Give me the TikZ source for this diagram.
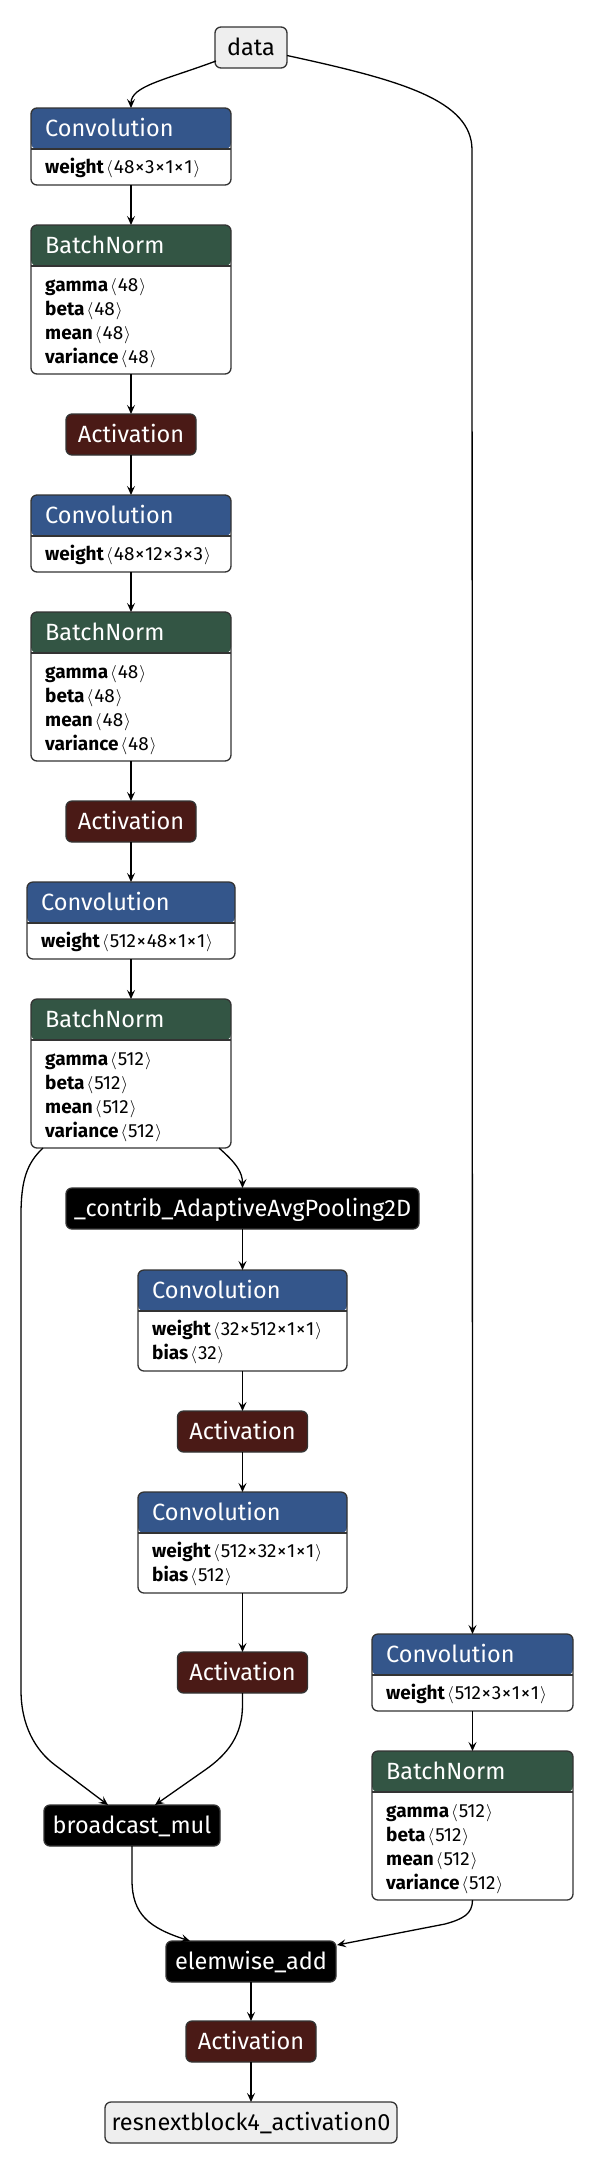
\documentclass[tikz,border=0pt]{standalone}
\usepackage{fontspec}
\setmainfont{Fira Sans}
\usetikzlibrary{arrows.meta}
\definecolor{convcol}{RGB}{52,86,139}
\definecolor{bncol}{RGB}{51,85,68}
\definecolor{actcol}{RGB}{74,26,22}
\definecolor{iocol}{RGB}{238,238,238}
\definecolor{bordcol}{RGB}{51,51,51}
\newcommand\hdrfont{\fontsize{23.5}{26}\selectfont}
\newcommand\bodyfont{\fontsize{19}{24}\selectfont}
\newcommand\dims[1]{\kern2pt$\langle$\kern1pt#1\kern1pt$\rangle$}
\newcommand\xx{\kern0.6pt×\kern0.6pt}
\tikzset{
  boxbase/.style={draw=bordcol, line width=1.3pt, rounded corners=6pt, inner sep=0pt, outer sep=0pt, anchor=north west},
  param/.style n args={4}{boxbase, fill=white, minimum width=#1, minimum height=#2,
     path picture={\fill[#3] (path picture bounding box.north west) rectangle ([yshift=-41pt]path picture bounding box.north east);
       \draw[bordcol, line width=1.3pt] ([yshift=-41pt]path picture bounding box.north west) -- ([yshift=-41pt]path picture bounding box.north east);}},
  simple/.style n args={3}{boxbase, fill=#2, text=#3, minimum width=#1, minimum height=41pt, font=\hdrfont},
  hdr/.style={anchor=base west, inner sep=0pt, text=white, font=\hdrfont},
  body/.style={anchor=base west, inner sep=0pt, text=black, font=\bodyfont, align=left},
  lbl/.style={anchor=base, inner sep=0pt, font=\hdrfont},
  edge/.style={draw=black, line width=1.3pt, -{Stealth[length=9pt,width=8pt,inset=3.5pt]}},
}
\begin{document}
\begin{tikzpicture}[x=1pt,y=-1pt]
\useasboundingbox (0,0) rectangle (606,2172);
% data
\node[simple={72pt}{iocol}{black}] (data) at (215,27) {};
\node[lbl] (datat) at ([yshift=-28pt]data.north) {data};
% Conv1
\node[param={200pt}{77pt}{convcol}] (conv1) at (31,108) {};
\node[hdr] (conv1h) at ([xshift=14pt,yshift=-28pt]conv1.north west) {Convolution};
\node[body] (conv1b) at ([xshift=14pt,yshift=-65pt]conv1.north west) {\textbf{weight}\dims{48\xx3\xx1\xx1}};
% BN1
\node[param={200pt}{149pt}{bncol}] (bn1) at (31,225) {};
\node[hdr] (bn1h) at ([xshift=14pt,yshift=-28pt]bn1.north west) {BatchNorm};
\node[body] (bn1b) at ([xshift=14pt,yshift=-138pt]bn1.north west) {\textbf{gamma}\dims{48}\\\textbf{beta}\dims{48}\\\textbf{mean}\dims{48}\\\textbf{variance}\dims{48}};
% Act1
\node[simple={130pt}{actcol}{white}] (act1) at (66,414) {};
\node[lbl,text=white] (act1t) at ([yshift=-28pt]act1.north) {Activation};
% Conv2
\node[param={200pt}{77pt}{convcol}] (conv2) at (31,495) {};
\node[hdr] (conv2h) at ([xshift=14pt,yshift=-28pt]conv2.north west) {Convolution};
\node[body] (conv2b) at ([xshift=14pt,yshift=-65pt]conv2.north west) {\textbf{weight}\dims{48\xx12\xx3\xx3}};
% BN2
\node[param={200pt}{149pt}{bncol}] (bn2) at (31,612) {};
\node[hdr] (bn2h) at ([xshift=14pt,yshift=-28pt]bn2.north west) {BatchNorm};
\node[body] (bn2b) at ([xshift=14pt,yshift=-138pt]bn2.north west) {\textbf{gamma}\dims{48}\\\textbf{beta}\dims{48}\\\textbf{mean}\dims{48}\\\textbf{variance}\dims{48}};
% Act2
\node[simple={130pt}{actcol}{white}] (act2) at (66,801) {};
\node[lbl,text=white] (act2t) at ([yshift=-28pt]act2.north) {Activation};
% Conv3
\node[param={208pt}{77pt}{convcol}] (conv3) at (27,882) {};
\node[hdr] (conv3h) at ([xshift=14pt,yshift=-28pt]conv3.north west) {Convolution};
\node[body] (conv3b) at ([xshift=14pt,yshift=-65pt]conv3.north west) {\textbf{weight}\dims{512\xx48\xx1\xx1}};
% BN3
\node[param={200pt}{149pt}{bncol}] (bn3) at (31,999) {};
\node[hdr] (bn3h) at ([xshift=14pt,yshift=-28pt]bn3.north west) {BatchNorm};
\node[body] (bn3b) at ([xshift=14pt,yshift=-138pt]bn3.north west) {\textbf{gamma}\dims{512}\\\textbf{beta}\dims{512}\\\textbf{mean}\dims{512}\\\textbf{variance}\dims{512}};
% Pool
\node[simple={353pt}{black}{white}] (pool) at (66,1188) {};
\node[lbl,text=white] (poolt) at ([yshift=-28pt]pool.north) {\_contrib\_AdaptiveAvgPooling2D};
% Conv4
\node[param={209pt}{101pt}{convcol}] (conv4) at (138,1270) {};
\node[hdr] (conv4h) at ([xshift=14pt,yshift=-28pt]conv4.north west) {Convolution};
\node[body] (conv4b) at ([xshift=14pt,yshift=-89pt]conv4.north west) {\textbf{weight}\dims{32\xx512\xx1\xx1}\\\textbf{bias}\dims{32}};
% Act4
\node[simple={130pt}{actcol}{white}] (act4) at (177.5,1411) {};
\node[lbl,text=white] (act4t) at ([yshift=-28pt]act4.north) {Activation};
% Conv5
\node[param={209pt}{101pt}{convcol}] (conv5) at (138,1492) {};
\node[hdr] (conv5h) at ([xshift=14pt,yshift=-28pt]conv5.north west) {Convolution};
\node[body] (conv5b) at ([xshift=14pt,yshift=-89pt]conv5.north west) {\textbf{weight}\dims{512\xx32\xx1\xx1}\\\textbf{bias}\dims{512}};
% Act5
\node[simple={130pt}{actcol}{white}] (act5) at (177.5,1652) {};
\node[lbl,text=white] (act5t) at ([yshift=-28pt]act5.north) {Activation};
% ConvR
\node[param={201pt}{77pt}{convcol}] (convr) at (372,1634) {};
\node[hdr] (convrh) at ([xshift=14pt,yshift=-28pt]convr.north west) {Convolution};
\node[body] (convrb) at ([xshift=14pt,yshift=-65pt]convr.north west) {\textbf{weight}\dims{512\xx3\xx1\xx1}};
% BNR
\node[param={201pt}{149pt}{bncol}] (bnr) at (372,1751) {};
\node[hdr] (bnrh) at ([xshift=14pt,yshift=-28pt]bnr.north west) {BatchNorm};
\node[body] (bnrb) at ([xshift=14pt,yshift=-138pt]bnr.north west) {\textbf{gamma}\dims{512}\\\textbf{beta}\dims{512}\\\textbf{mean}\dims{512}\\\textbf{variance}\dims{512}};
% broadcast_mul
\node[simple={176pt}{black}{white}] (bm) at (44,1805) {};
\node[lbl,text=white] (bmt) at ([yshift=-28pt]bm.north) {broadcast\_mul};
% elemwise_add
\node[simple={170pt}{black}{white}] (ea) at (166,1941) {};
\node[lbl,text=white] (eat) at ([yshift=-28pt]ea.north) {elemwise\_add};
% Act6
\node[simple={130pt}{actcol}{white}] (act6) at (186,2021) {};
\node[lbl,text=white] (act6t) at ([yshift=-28pt]act6.north) {Activation};
% output
\node[simple={292pt}{iocol}{black}] (out) at (105,2102) {};
\node[lbl] (outt) at ([yshift=-28pt]out.north) {resnextblock4\_activation0};

% edges
\draw[edge] ([xshift=1pt,yshift=7pt]data.south west) .. controls (165,80) and (131,86) .. (conv1.north);
\draw[edge] ([yshift=-8pt]data.east) .. controls (400,80) and (472,100) .. (472,150) -- (convr.north);
\draw[edge] (conv1) -- (bn1);
\draw[edge] (bn1) -- (act1.north -| bn1.south);
\draw[edge] (act1.south -| conv2.north) -- (conv2);
\draw[edge] (conv2) -- (bn2);
\draw[edge] (bn2) -- (act2.north -| bn2.south);
\draw[edge] (act2.south -| conv3.north) -- (conv3);
\draw[edge] (conv3) -- (bn3);
\draw[edge] ([xshift=-12pt]bn3.south east) .. controls (236,1163) and (242.5,1172) .. (pool.north);
\draw[edge] ([xshift=12pt]bn3.south west) .. controls (27,1163) and (21,1180) .. (21,1215) -- (21,1690) .. controls (21,1725) and (35,1750) .. (55,1765) -- ([xshift=64pt]bm.north west);
\draw[edge] (pool) -- (conv4);
\draw[edge] (conv4) -- (act4);
\draw[edge] (act4) -- (conv5);
\draw[edge] (conv5) -- (act5);
\draw[edge] (act5.south) -- (242.5,1705) .. controls (242.5,1735) and (228,1754) .. (205,1770) -- ([xshift=111pt]bm.north west);
\draw[edge] (convr) -- (bnr);
\draw[edge] (bm.south) -- (132,1880) .. controls (132,1915) and (150,1928) .. ([xshift=24pt]ea.north west);
\draw[edge] (bnr.south) .. controls (472.5,1914) and (463,1919) .. (445,1924) -- ([xshift=1pt,yshift=-4pt]ea.north east);
\draw[edge] (ea) -- (act6);
\draw[edge] (act6) -- (out);
\end{tikzpicture}
\end{document}
